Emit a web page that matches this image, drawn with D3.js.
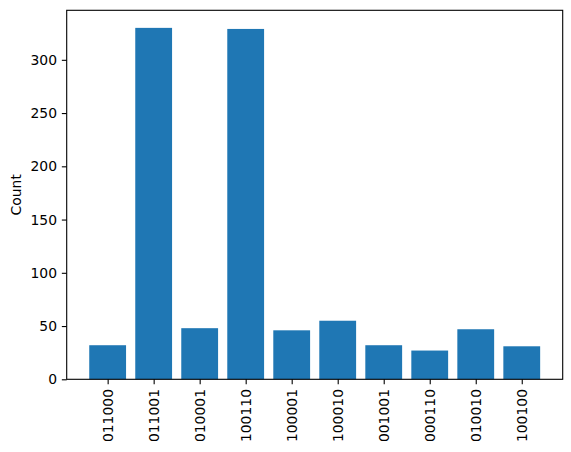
<!DOCTYPE html>
<html>
<head>
<meta charset="utf-8">
<script src="https://cdn.jsdelivr.net/npm/d3@7"></script>
<style>
  body { margin: 0; background: #fff; }
  svg { display: block; }
  text { font-family: "DejaVu Sans", sans-serif; fill: #000; }
</style>
</head>
<body>
<svg id="chart" width="571" height="452"></svg>
<script>
const categories = ["011000", "011001", "010001", "100110", "100001", "100010", "001001", "000110", "010010", "100100"];
const counts = [32, 330, 48, 329, 46, 55, 32, 27, 47, 31];
const yTicks = [0, 50, 100, 150, 200, 250, 300];
const yLabel = "Count";

(function () {
const svg = d3.select("#chart");
const mLeft = 66.7, mRight = 562.7, mTop = 10.3, mBottom = 379.3;
const fontSize = 13.9;
const tickLen = 4.86;
const color = "#1f77b4";

const n = categories.length;
const x = d3.scaleLinear().domain([-0.89, n - 1 + 0.89]).range([mLeft, mRight]);
const yMax = d3.max(counts) * 1.05;
const y = d3.scaleLinear().domain([0, yMax]).range([mBottom, mTop]);
const barW = 0.8;

svg.append("g").selectAll("rect").data(counts).join("rect")
  .attr("x", (d, i) => x(i - barW / 2))
  .attr("width", (d, i) => x(i + barW / 2) - x(i - barW / 2))
  .attr("y", d => y(d))
  .attr("height", d => y(0) - y(d))
  .attr("fill", color);

const yAxis = d3.axisLeft(y).tickValues(yTicks).tickSize(tickLen).tickPadding(4.86).tickFormat(d3.format("d"));
const gy = svg.append("g").attr("transform", `translate(${mLeft},0)`).call(yAxis);
gy.select(".domain").remove();
gy.selectAll("line").attr("stroke", "#000").attr("stroke-width", 1.1);
gy.selectAll("text").attr("font-size", fontSize).attr("font-family", "DejaVu Sans").attr("fill", "#000");

const xAxis = d3.axisBottom(x).tickValues(d3.range(n)).tickSize(tickLen).tickFormat(i => categories[i]);
const gx = svg.append("g").attr("transform", `translate(0,${mBottom})`).call(xAxis);
gx.select(".domain").remove();
gx.selectAll("line").attr("stroke", "#000").attr("stroke-width", 1.1);
gx.selectAll("text")
  .attr("font-size", fontSize).attr("font-family", "DejaVu Sans").attr("fill", "#000")
  .attr("transform", `translate(0,${tickLen + 4.86}) rotate(-90)`)
  .attr("x", 0).attr("y", 0).attr("dy", "0.35em")
  .attr("text-anchor", "end");

svg.append("rect")
  .attr("x", mLeft).attr("y", mTop)
  .attr("width", mRight - mLeft).attr("height", mBottom - mTop)
  .attr("fill", "none").attr("stroke", "#000").attr("stroke-width", 1.1);

svg.append("text")
  .attr("transform", `translate(21,${(mTop + mBottom) / 2}) rotate(-90)`)
  .attr("text-anchor", "middle")
  .attr("font-size", fontSize)
  .text(yLabel);
})();
</script>
</body>
</html>
